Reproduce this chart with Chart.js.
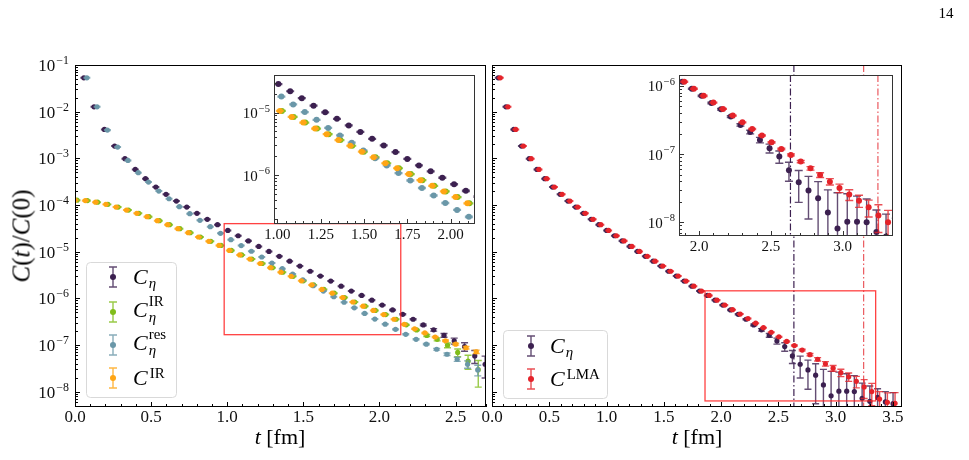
<!DOCTYPE html>
<html>
<head>
<meta charset="utf-8">
<script src="https://cdn.jsdelivr.net/npm/chart.js@4.4.1/dist/chart.umd.min.js"></script>
<style>
    body { margin: 0; background: #fff; width: 969px; height: 460px; overflow: hidden; position: relative; }
    canvas { position: absolute; left: 0; top: 0; }
    .lab { position: absolute; font-family: "Liberation Serif", serif; font-size: 22px; line-height: 1; white-space: nowrap; color: #000; transform: translateY(-50%); }
    .sb { font-size: 0.68em; position: relative; top: 0.3em; margin-left: 1px; }
    .sp { font-size: 0.68em; position: relative; top: -0.5em; margin-left: 2px; }
    .st { display: inline-block; font-size: 0.68em; line-height: 1.05; vertical-align: middle; position: relative; top: -0.12em; margin-left: 1px; }
    .st > span { display: block; }
</style>
</head>
<body>
<canvas id="mainL" width="969" height="460"></canvas>
<canvas id="mainR" width="969" height="460"></canvas>
<canvas id="insetL" width="969" height="460"></canvas>
<canvas id="insetR" width="969" height="460"></canvas>

<div class="lab" style="left:946px;top:13px;font-size:15px;transform:translate(-50%,-50%)">14</div>
<div class="lab" style="left:21px;top:236px;font-size:25px;transform:translate(-50%,-50%) rotate(-90deg)"><i>C</i>(<i>t</i>)/<i>C</i>(0)</div>
<div class="lab" style="left:280px;top:437px;transform:translate(-50%,-50%)"><i>t</i> [fm]</div>
<div class="lab" style="left:697px;top:437px;transform:translate(-50%,-50%)"><i>t</i> [fm]</div>

<div class="lab" style="left:133px;top:277px"><i>C</i><span class="sb"><i>η</i></span></div>
<div class="lab" style="left:133px;top:312px"><i>C</i><span class="st"><span>IR</span><span><i>η</i></span></span></div>
<div class="lab" style="left:133px;top:345px"><i>C</i><span class="st"><span>res</span><span><i>η</i></span></span></div>
<div class="lab" style="left:133px;top:378px"><i>C</i><span class="sp">IR</span></div>

<div class="lab" style="left:550px;top:346px"><i>C</i><span class="sb"><i>η</i></span></div>
<div class="lab" style="left:550px;top:379px"><i>C</i><span class="sp">LMA</span></div>

<script>
// Euclidean time t (fm), index k = 0..52
const tFm = [0.000, 0.068, 0.135, 0.203, 0.270, 0.338, 0.406, 0.473, 0.541, 0.608,
    0.676, 0.744, 0.811, 0.879, 0.946, 1.014, 1.082, 1.149, 1.217, 1.284,
    1.352, 1.420, 1.487, 1.555, 1.622, 1.690, 1.758, 1.825, 1.893, 1.960,
    2.028, 2.096, 2.163, 2.231, 2.298, 2.366, 2.434, 2.501, 2.569, 2.636,
    2.704, 2.772, 2.839, 2.907, 2.974, 3.042, 3.110, 3.177, 3.245, 3.312,
    3.380, 3.448, 3.515];

// C_eta
const cEta = [null, 5.32e-2, 1.27e-2, 4.16e-3, 1.83e-3, 9.80e-4, 5.78e-4, 3.66e-4, 2.42e-4, 1.69e-4,
    1.21e-4, 9.02e-5, 6.61e-5, 4.92e-5, 3.79e-5, 2.85e-5, 2.19e-5, 1.70e-5, 1.29e-5, 1.01e-5,
    7.94e-6, 6.24e-6, 4.90e-6, 3.80e-6, 2.99e-6, 2.34e-6, 1.82e-6, 1.43e-6, 1.15e-6, 9.12e-7,
    7.16e-7, 5.62e-7, 4.54e-7, 3.55e-7, 2.68e-7, 2.11e-7, 1.61e-7, 1.22e-7, 9.24e-8, 5.81e-8,
    3.86e-8, 2.92e-8, 2.25e-8, 1.39e-8, 8.1e-9, 1.02e-8, 1.02e-8, 1.0e-8, 7.2e-9, 6.2e-9,
    7.5e-9, 6.0e-9, 5.5e-9];
const cEtaErr = [null, 8e-4, 1.9e-4, 6e-5, 2.7e-5, 1.5e-5, 8.7e-6, 5.5e-6, 3.6e-6, 2.5e-6,
    1.8e-6, 1.4e-6, 1.0e-6, 7.4e-7, 5.7e-7, 4.3e-7, 3.3e-7, 2.6e-7, 2.0e-7, 1.5e-7,
    1.2e-7, 9.4e-8, 7.4e-8, 5.7e-8, 4.5e-8, 3.5e-8, 2.9e-8, 2.4e-8, 2.0e-8, 1.7e-8,
    1.5e-8, 1.3e-8, 1.2e-8, 1.1e-8, 1.1e-8, 1.3e-8, 1.5e-8, 1.8e-8, 1.9e-8, 1.8e-8,
    1.9e-8, 1.8e-8, 1.7e-8, 1.6e-8, 1.9e-8, 1.6e-8, 1.4e-8, 1.2e-8, 8e-9, 7e-9,
    4e-9, 4e-9, 4e-9];

// C_eta^IR
const cEtaIR = [1.27e-4, 1.24e-4, 1.15e-4, 1.03e-4, 9.02e-5, 7.78e-5, 6.61e-5, 5.61e-5, 4.61e-5, 3.79e-5,
    3.11e-5, 2.55e-5, 2.06e-5, 1.66e-5, 1.36e-5, 1.06e-5, 8.51e-6, 6.92e-6, 5.56e-6, 4.52e-6,
    3.63e-6, 2.95e-6, 2.37e-6, 1.93e-6, 1.55e-6, 1.29e-6, 1.04e-6, 8.32e-7, 6.76e-7, 5.50e-7,
    4.47e-7, 3.55e-7, 2.70e-7, 2.10e-7, 1.60e-7, 1.32e-7, 9.9e-8, 6.9e-8, 4.5e-8, 2.95e-8];
const cEtaIRErr = [1.9e-6, 1.9e-6, 1.7e-6, 1.5e-6, 1.35e-6, 1.2e-6, 1.0e-6, 8.4e-7, 6.9e-7, 5.7e-7,
    4.7e-7, 3.8e-7, 3.1e-7, 2.5e-7, 2.0e-7, 1.6e-7, 1.3e-7, 1.0e-7, 8.3e-8, 6.8e-8,
    5.4e-8, 4.4e-8, 3.6e-8, 2.9e-8, 2.3e-8, 1.9e-8, 1.6e-8, 1.3e-8, 1.0e-8, 8.5e-9,
    7e-9, 6e-9, 5e-9, 6e-9, 8e-9, 1.0e-8, 1.2e-8, 1.3e-8, 1.5e-8, 1.7e-8];

// C_eta^res
const cEtaRes = [null, 5.32e-2, 1.27e-2, 4.02e-3, 1.74e-3, 9.02e-4, 4.92e-4, 3.09e-4, 1.99e-4, 1.36e-4,
    9.20e-5, 6.52e-5, 4.68e-5, 3.43e-5, 2.47e-5, 1.80e-5, 1.35e-5, 1.02e-5, 7.67e-6, 5.69e-6,
    4.32e-6, 3.30e-6, 2.48e-6, 1.86e-6, 1.43e-6, 1.08e-6, 8.22e-7, 6.24e-7, 4.73e-7, 3.59e-7,
    2.79e-7, 2.16e-7, 1.69e-7, 1.32e-7, 1.04e-7, 8.09e-8, 6.32e-8, 4.94e-8, 3.86e-8, 2.92e-8];
const cEtaResErr = [null, 8e-4, 1.9e-4, 6e-5, 2.6e-5, 1.4e-5, 7.4e-6, 4.6e-6, 3.0e-6, 2.0e-6,
    1.4e-6, 1.0e-6, 7.0e-7, 5.1e-7, 3.7e-7, 2.7e-7, 2.0e-7, 1.5e-7, 1.2e-7, 8.5e-8,
    6.5e-8, 5.0e-8, 3.8e-8, 2.9e-8, 2.2e-8, 1.7e-8, 1.3e-8, 1.0e-8, 8e-9, 6.5e-9,
    5.5e-9, 4.8e-9, 4.2e-9, 3.8e-9, 3.6e-9, 3.6e-9, 4e-9, 5e-9, 7e-9, 7.5e-9];

// C^IR
const cIR = [1.27e-4, 1.24e-4, 1.15e-4, 1.03e-4, 9.02e-5, 7.78e-5, 6.61e-5, 5.61e-5, 4.61e-5, 3.79e-5,
    3.11e-5, 2.55e-5, 2.06e-5, 1.66e-5, 1.36e-5, 1.06e-5, 8.51e-6, 6.92e-6, 5.56e-6, 4.52e-6,
    3.63e-6, 2.95e-6, 2.37e-6, 1.93e-6, 1.55e-6, 1.29e-6, 1.04e-6, 8.32e-7, 6.76e-7, 5.50e-7,
    4.47e-7, 3.55e-7, 2.77e-7, 2.22e-7, 1.81e-7, 1.48e-7, 1.23e-7, 1.04e-7, 8.71e-8, 7.15e-8];
const cIRErr = [1.9e-6, 1.9e-6, 1.7e-6, 1.5e-6, 1.35e-6, 1.2e-6, 1.0e-6, 8.4e-7, 6.9e-7, 5.7e-7,
    4.7e-7, 3.8e-7, 3.1e-7, 2.5e-7, 2.0e-7, 1.6e-7, 1.3e-7, 1.0e-7, 8.3e-8, 6.8e-8,
    5.4e-8, 4.4e-8, 3.6e-8, 2.9e-8, 2.3e-8, 1.9e-8, 1.6e-8, 1.3e-8, 1.0e-8, 8.5e-9,
    7e-9, 6e-9, 5.2e-9, 4.8e-9, 4.6e-9, 4.6e-9, 4.8e-9, 5e-9, 5.5e-9, 6e-9];

// C^LMA
const cLMA = [null, 5.32e-2, 1.27e-2, 4.16e-3, 1.83e-3, 9.80e-4, 5.78e-4, 3.66e-4, 2.42e-4, 1.69e-4,
    1.21e-4, 9.02e-5, 6.61e-5, 4.92e-5, 3.79e-5, 2.85e-5, 2.19e-5, 1.70e-5, 1.29e-5, 1.01e-5,
    7.94e-6, 6.24e-6, 4.90e-6, 3.80e-6, 2.99e-6, 2.34e-6, 1.82e-6, 1.43e-6, 1.15e-6, 9.12e-7,
    7.16e-7, 5.69e-7, 4.59e-7, 3.67e-7, 2.93e-7, 2.34e-7, 1.87e-7, 1.49e-7, 1.19e-7, 9.73e-8,
    7.78e-8, 6.19e-8, 4.94e-8, 3.95e-8, 3.18e-8, 2.55e-8, 2.08e-8, 1.66e-8, 1.26e-8, 1.0e-8,
    6.9e-9, 5.9e-9, 5.6e-9];
const cLMAErr = [null, 8e-4, 1.9e-4, 6e-5, 2.7e-5, 1.5e-5, 8.7e-6, 5.5e-6, 3.6e-6, 2.5e-6,
    1.8e-6, 1.4e-6, 1.0e-6, 7.4e-7, 5.7e-7, 4.3e-7, 3.3e-7, 2.6e-7, 2.0e-7, 1.5e-7,
    1.2e-7, 9.4e-8, 7.4e-8, 5.7e-8, 4.5e-8, 3.5e-8, 2.9e-8, 2.4e-8, 2.0e-8, 1.7e-8,
    1.5e-8, 8e-9, 6.5e-9, 5.5e-9, 4.5e-9, 3.8e-9, 3.4e-9, 3.2e-9, 3.0e-9, 3.0e-9,
    3.0e-9, 3.7e-9, 4.0e-9, 4.3e-9, 4.5e-9, 4.6e-9, 4.2e-9, 4.6e-9, 5.5e-9, 5.0e-9,
    3.1e-9, 3.5e-9, 3.9e-9];

// fit-window cuts (fm)
const tCutEta = 2.636;
const tCutLMA = 3.245;

// tick labels
const xTicksMainL = [0.0, 0.5, 1.0, 1.5, 2.0, 2.5];
const xTicksMainR = [0.0, 0.5, 1.0, 1.5, 2.0, 2.5, 3.0, 3.5];
const xTicksInsetL = [1.00, 1.25, 1.50, 1.75, 2.00];
const xTicksInsetR = [2.0, 2.5, 3.0];
const yTicksMain = [1e-1, 1e-2, 1e-3, 1e-4, 1e-5, 1e-6, 1e-7, 1e-8];
const yTicksInsetL = [1e-5, 1e-6];
const yTicksInsetR = [1e-6, 1e-7, 1e-8];

// axis ranges
const yRangeMain = [Math.pow(10, -8.33), 0.1];
const zoomL = { x: [0.98, 2.14], y: [Math.pow(10, -6.78), Math.pow(10, -4.40)] };
const zoomR = { x: [1.86, 3.35], y: [Math.pow(10, -8.2), Math.pow(10, -5.84)] };

// page boxes of the insets (left, top, right, bottom)
const insetBoxL = [274, 75, 475, 224];
const insetBoxR = [679, 75, 893, 236];

const PURPLE = '#3c2050', GREEN = '#80bd1a', BLUE = '#6a97a8', ORANGE = '#ffa514', RED = '#e4232a';
const FONT = '"Liberation Serif", serif';

function withAlpha(hex, a) {
    const n = parseInt(hex.slice(1), 16);
    return `rgba(${n >> 16}, ${(n >> 8) & 255}, ${n & 255}, ${a})`;
}

function points(vals, errs) {
    const out = [];
    vals.forEach((v, i) => {
        if (v != null) out.push({ x: tFm[i], y: v, e: errs[i] });
    });
    return out;
}

function powLabel(ctx, val, xr, yc, size) {
    const exp = Math.round(Math.log10(val));
    const base = '10', ex = (exp < 0 ? '\u2212' : '') + Math.abs(exp);
    const es = size * 0.7;
    ctx.font = `${size}px ${FONT}`;
    const wb = ctx.measureText(base).width;
    ctx.font = `${es}px ${FONT}`;
    const we = ctx.measureText(ex).width;
    const x0 = xr - wb - we - 1;
    ctx.textAlign = 'left';
    ctx.textBaseline = 'alphabetic';
    ctx.font = `${size}px ${FONT}`;
    ctx.fillText(base, x0, yc + size * 0.36);
    ctx.font = `${es}px ${FONT}`;
    ctx.fillText(ex, x0 + wb + 1, yc + size * 0.36 - size * 0.42);
}

function dashDot(ctx, chart, t, color) {
    const a = chart.chartArea;
    const x = chart.scales.x.getPixelForValue(t);
    ctx.save();
    ctx.strokeStyle = color;
    ctx.lineWidth = 1.2;
    ctx.setLineDash([7, 2.5, 1.5, 2.5]);
    ctx.beginPath();
    ctx.moveTo(x, a.top);
    ctx.lineTo(x, a.bottom);
    ctx.stroke();
    ctx.restore();
}

function makeChart(id, cfg) {
    const deco = {
        id: 'deco',
        beforeDraw(chart) {
            if (!cfg.whiteBg) return;
            const a = chart.chartArea;
            chart.ctx.fillStyle = '#fff';
            chart.ctx.fillRect(a.left, a.top, a.right - a.left, a.bottom - a.top);
        },
        afterDatasetsUpdate(chart) {
            chart.data.datasets.forEach((ds, i) => {
                chart.getDatasetMeta(i).data.forEach(el => { el.x += ds.shiftPx; });
            });
        },
        beforeDatasetsDraw(chart) {
            const ctx = chart.ctx, a = chart.chartArea;
            if (!cfg.cuts) return;
            ctx.save();
            ctx.beginPath();
            ctx.rect(a.left, a.top, a.right - a.left, a.bottom - a.top);
            if (cfg.hole) {
                const h = cfg.hole;
                ctx.rect(h[0], h[1], h[2] - h[0], h[3] - h[1]);
            }
            ctx.clip('evenodd');
            dashDot(ctx, chart, tCutEta, PURPLE);
            dashDot(ctx, chart, tCutLMA, withAlpha(RED, 0.75));
            ctx.restore();
        },
        beforeDatasetDraw(chart, args) {
            const ds = chart.data.datasets[args.index];
            const ys = chart.scales.y, ctx = chart.ctx, a = chart.chartArea;
            ctx.save();
            ctx.beginPath();
            ctx.rect(a.left, a.top, a.right - a.left, a.bottom - a.top);
            ctx.clip();
            ctx.strokeStyle = withAlpha(ds.errColor, 0.8);
            ctx.lineWidth = 1.4;
            args.meta.data.forEach((el, i) => {
                const d = ds.data[i];
                const top = ys.getPixelForValue(d.y + d.e);
                const lo = d.y - d.e;
                const bot = lo > 0 ? ys.getPixelForValue(lo) : a.bottom + 10;
                ctx.beginPath();
                ctx.moveTo(el.x, top);
                ctx.lineTo(el.x, bot);
                ctx.moveTo(el.x - cfg.cap, top);
                ctx.lineTo(el.x + cfg.cap, top);
                if (lo > 0) {
                    ctx.moveTo(el.x - cfg.cap, bot);
                    ctx.lineTo(el.x + cfg.cap, bot);
                }
                ctx.stroke();
            });
            ctx.restore();
        },
        afterDatasetsDraw(chart) {
            const ctx = chart.ctx;
            const xs = chart.scales.x, ys = chart.scales.y;
            if (cfg.zoomBox) {
                const z = cfg.zoomBox;
                const x0 = xs.getPixelForValue(z.x[0]), x1 = xs.getPixelForValue(z.x[1]);
                const y0 = ys.getPixelForValue(z.y[1]), y1 = ys.getPixelForValue(z.y[0]);
                ctx.save();
                ctx.strokeStyle = withAlpha('#ff2020', 0.85);
                ctx.lineWidth = 1.3;
                ctx.strokeRect(x0, y0, x1 - x0, y1 - y0);
                ctx.restore();
            }
            if (cfg.legend) {
                const L = cfg.legend;
                ctx.save();
                ctx.fillStyle = 'rgba(255,255,255,0.8)';
                ctx.strokeStyle = '#d9d9d9';
                ctx.lineWidth = 1;
                ctx.beginPath();
                ctx.roundRect(L.box[0] + 0.5, L.box[1] + 0.5, L.box[2] - L.box[0], L.box[3] - L.box[1], 4);
                ctx.fill();
                ctx.stroke();
                L.items.forEach(it => {
                    ctx.strokeStyle = withAlpha(it.color, 0.8);
                    ctx.lineWidth = 1.4;
                    ctx.beginPath();
                    ctx.moveTo(L.mx, it.y - 10); ctx.lineTo(L.mx, it.y + 10);
                    ctx.moveTo(L.mx - 4, it.y - 10); ctx.lineTo(L.mx + 4, it.y - 10);
                    ctx.moveTo(L.mx - 4, it.y + 10); ctx.lineTo(L.mx + 4, it.y + 10);
                    ctx.stroke();
                    ctx.fillStyle = it.color;
                    ctx.beginPath();
                    ctx.arc(L.mx, it.y, 3, 0, Math.PI * 2);
                    ctx.fill();
                });
                ctx.restore();
            }
        },
        afterDraw(chart) {
            const ctx = chart.ctx, a = chart.chartArea;
            const xs = chart.scales.x, ys = chart.scales.y;
            ctx.save();
            ctx.strokeStyle = cfg.frame;
            ctx.fillStyle = '#111';
            ctx.lineWidth = 1;
            ctx.strokeRect(a.left + 0.5, a.top + 0.5, a.right - a.left - 1, a.bottom - a.top - 1);
            // x ticks
            ctx.beginPath();
            const [xmin, xmax] = cfg.x;
            for (let v = Math.ceil(xmin / cfg.xMinor) * cfg.xMinor; v <= xmax + 1e-9; v += cfg.xMinor) {
                const x = Math.round(xs.getPixelForValue(v)) + 0.5;
                ctx.moveTo(x, a.bottom); ctx.lineTo(x, a.bottom - 3);
            }
            cfg.xTicks.forEach(v => {
                const x = Math.round(xs.getPixelForValue(v)) + 0.5;
                ctx.moveTo(x, a.bottom); ctx.lineTo(x, a.bottom - 5);
            });
            // y ticks
            const [ymin, ymax] = cfg.y;
            for (let p = Math.floor(Math.log10(ymin)); p <= Math.ceil(Math.log10(ymax)); p++) {
                for (let m = 1; m <= 9; m++) {
                    const v = m * Math.pow(10, p);
                    if (v < ymin || v > ymax) continue;
                    const y = Math.round(ys.getPixelForValue(v)) + 0.5;
                    ctx.moveTo(a.left, y); ctx.lineTo(a.left + (m === 1 ? 5 : 3), y);
                }
            }
            ctx.stroke();
            // labels
            ctx.textAlign = 'center';
            ctx.textBaseline = 'middle';
            ctx.font = `${cfg.fs}px ${FONT}`;
            cfg.xTicks.forEach(v => {
                ctx.fillText(v.toFixed(cfg.xDigits), xs.getPixelForValue(v), a.bottom + 11);
            });
            if (cfg.yLabels) {
                cfg.yTicks.forEach(v => powLabel(ctx, v, a.left - cfg.yGap, ys.getPixelForValue(v), cfg.fs));
            }
            ctx.restore();
        }
    };

    const n = cfg.series.length;
    return new Chart(document.getElementById(id), {
        type: 'scatter',
        data: {
            // later series are drawn on top, as in the original
            datasets: cfg.series.map((s, i) => ({
                data: s.data,
                order: n - i,
                pointBackgroundColor: s.color,
                backgroundColor: s.color,
                pointBorderWidth: 0,
                pointRadius: cfg.r,
                pointHoverRadius: cfg.r,
                clip: 0,
                errColor: s.color,
                shiftPx: s.shift
            }))
        },
        options: {
            responsive: false,
            animation: false,
            events: [],
            devicePixelRatio: 1,
            layout: { padding: cfg.pad },
            plugins: { legend: { display: false }, tooltip: { enabled: false } },
            scales: {
                x: { type: 'linear', bounds: 'data', min: cfg.x[0], max: cfg.x[1], display: false },
                y: { type: 'logarithmic', bounds: 'data', min: cfg.y[0], max: cfg.y[1], display: false }
            }
        },
        plugins: [deco]
    });
}

function padOf(box) {
    return { left: box[0], top: box[1], right: 969 - box[2], bottom: 460 - box[3] };
}

const leftSeries = [
    { data: points(cEta, cEtaErr), color: PURPLE, shift: -1.5 },
    { data: points(cEtaIR, cEtaIRErr), color: GREEN, shift: 2 },
    { data: points(cEtaRes, cEtaResErr), color: BLUE, shift: 1.5 },
    { data: points(cIR, cIRErr), color: ORANGE, shift: 0 }
];
const rightSeries = [
    { data: points(cEta, cEtaErr), color: PURPLE, shift: -1.5 },
    { data: points(cLMA, cLMAErr), color: RED, shift: 0.5 }
];

makeChart('mainL', {
    pad: padOf([75, 65, 486, 407]),
    x: [0, 2.7], y: yRangeMain, xTicks: xTicksMainL, xMinor: 0.1, xDigits: 1,
    yTicks: yTicksMain, yLabels: true, yGap: 6, fs: 17, r: 2.6, cap: 3.5,
    frame: '#000', series: leftSeries, zoomBox: zoomL,
    legend: {
        box: [86, 262, 176, 397], mx: 113,
        items: [{ color: PURPLE, y: 277 }, { color: GREEN, y: 312 }, { color: BLUE, y: 345 }, { color: ORANGE, y: 378 }]
    }
});
makeChart('mainR', {
    pad: padOf([492, 65, 902, 407]),
    x: [0, 3.58], y: yRangeMain, xTicks: xTicksMainR, xMinor: 0.1, xDigits: 1,
    yTicks: yTicksMain, yLabels: false, yGap: 6, fs: 17, r: 2.6, cap: 3.5,
    frame: '#000', series: rightSeries, zoomBox: zoomR, cuts: true, hole: insetBoxR,
    legend: {
        box: [503, 330, 607, 398], mx: 531,
        items: [{ color: PURPLE, y: 346 }, { color: RED, y: 379 }]
    }
});
makeChart('insetL', {
    pad: padOf(insetBoxL),
    x: zoomL.x, y: zoomL.y, xTicks: xTicksInsetL, xMinor: 0.05, xDigits: 2,
    yTicks: yTicksInsetL, yLabels: true, yGap: 4, fs: 15, r: 3, cap: 4,
    frame: '#333', series: leftSeries, whiteBg: true
});
makeChart('insetR', {
    pad: padOf(insetBoxR),
    x: zoomR.x, y: zoomR.y, xTicks: xTicksInsetR, xMinor: 0.1, xDigits: 1,
    yTicks: yTicksInsetR, yLabels: true, yGap: 4, fs: 15, r: 3, cap: 4,
    frame: '#333', series: rightSeries, whiteBg: true, cuts: true
});
</script>
</body>
</html>
